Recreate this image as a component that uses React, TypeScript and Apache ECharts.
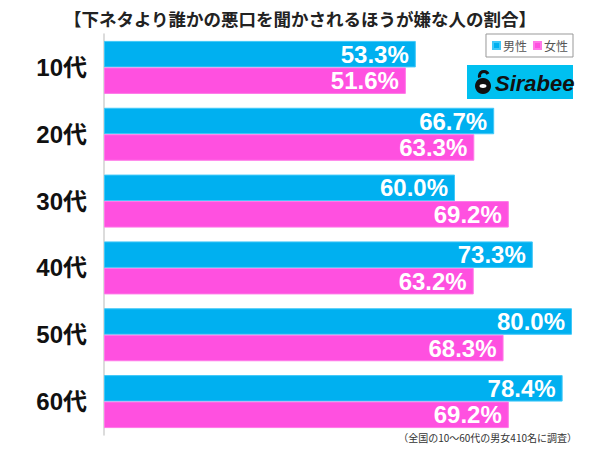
import React, { useEffect, useRef } from "react";
import * as echarts from "echarts";

const categories = ["10代", "20代", "30代", "40代", "50代", "60代"];
const maleValues = [53.3, 66.7, 60.0, 73.3, 80.0, 78.4];
const femaleValues = [51.6, 63.3, 69.2, 63.2, 68.3, 69.2];
const seriesNames = ["男性", "女性"];
const titleText = "【下ネタより誰かの悪口を聞かされるほうが嫌な人の割合】";
const noteText = "（全国の10～60代の男女410名に調査）";

const BLUE = "#00b0f0";
const PINK = "#ff50e0";

export default function App() {
  const ref = useRef<HTMLDivElement>(null);
  useEffect(() => {
    if (!ref.current) return;
    const chart = echarts.init(ref.current, null, { renderer: "svg" });
    const labelCfg = {
      show: true,
      position: "insideRight",
      distance: 7,
      color: "#fff",
      fontWeight: "bold",
      fontSize: 24,
      fontFamily: "Liberation Sans, Arial, sans-serif",
      formatter: (p: any) => p.value.toFixed(1) + "%",
    };
    chart.setOption({
      animation: false,
      backgroundColor: "#fff",
      title: {
        text: titleText,
        left: "center",
        top: 5,
        textStyle: {
          fontSize: 17.5,
          fontWeight: "bold",
          color: "#222",
          fontFamily: "Noto Sans CJK JP, sans-serif",
        },
      },
      legend: {
        data: seriesNames,
        right: 27,
        top: 34,
        icon: "rect",
        itemWidth: 7,
        itemHeight: 7,
        itemGap: 6,
        borderColor: "#999",
        borderWidth: 1,
        padding: [4, 5, 4, 6],
        textStyle: {
          fontSize: 12,
          lineHeight: 15,
          color: "#555",
          padding: [0, 0, 0, -2],
          fontFamily: "Noto Sans CJK JP, sans-serif",
        },
      },
      grid: { left: 104, top: 34, width: 468, height: 401, containLabel: false },
      xAxis: {
        type: "value",
        min: 0,
        max: 80,
        show: false,
      },
      yAxis: {
        type: "category",
        data: categories,
        inverse: true,
        axisLine: { show: true, lineStyle: { color: "#d0d0d0", width: 1.5 } },
        axisTick: { show: false },
        axisLabel: {
          margin: 17,
          fontSize: 24,
          fontWeight: "bold",
          color: "#111",
          fontFamily: "Liberation Sans, Noto Sans CJK JP, sans-serif",
        },
      },
      series: [
        {
          name: seriesNames[0],
          type: "bar",
          data: maleValues,
          barWidth: 26.5,
          barGap: "0%",
          barCategoryGap: "20%",
          itemStyle: { color: BLUE, borderColor: "#40c8f8", borderWidth: 1 },
          label: labelCfg,
        },
        {
          name: seriesNames[1],
          type: "bar",
          data: femaleValues,
          barWidth: 26.5,
          barGap: "0%",
          barCategoryGap: "20%",
          itemStyle: { color: PINK, borderColor: "#ff78e8", borderWidth: 1 },
          label: labelCfg,
        },
      ],
      graphic: [
        {
          type: "rect",
          shape: { x: 467, y: 65, width: 106, height: 34 },
          style: { fill: "#00c0f0" },
        },
        {
          type: "circle",
          shape: { cx: 483, cy: 86, r: 8 },
          style: { fill: "#111" },
        },
        {
          type: "arc",
          shape: { cx: 484, cy: 76, r: 4.5, startAngle: Math.PI * 0.9, endAngle: Math.PI * 1.85, clockwise: true },
          style: { stroke: "#111", lineWidth: 3.2, fill: "none" },
        },
        {
          type: "ellipse",
          shape: { cx: 483, cy: 86, rx: 3.5, ry: 2 },
          style: { fill: "#fff" },
        },
        {
          type: "text",
          x: 495,
          y: 72,
          style: {
            text: "Sirabee",
            fontSize: 22,
            fontWeight: "bold",
            fontStyle: "italic",
            fill: "#111",
            fontFamily: "Liberation Sans, Arial, sans-serif",
          },
        },
        {
          type: "text",
          right: 23,
          top: 432,
          style: {
            text: noteText,
            fontSize: 10,
            fill: "#333",
            fontFamily: "Noto Sans CJK JP, sans-serif",
          },
        },
      ],
    });
    return () => chart.dispose();
  }, []);
  return <div ref={ref} style={{ width: 600, height: 449, position: "absolute", left: 0, top: 0 }} />;
}
